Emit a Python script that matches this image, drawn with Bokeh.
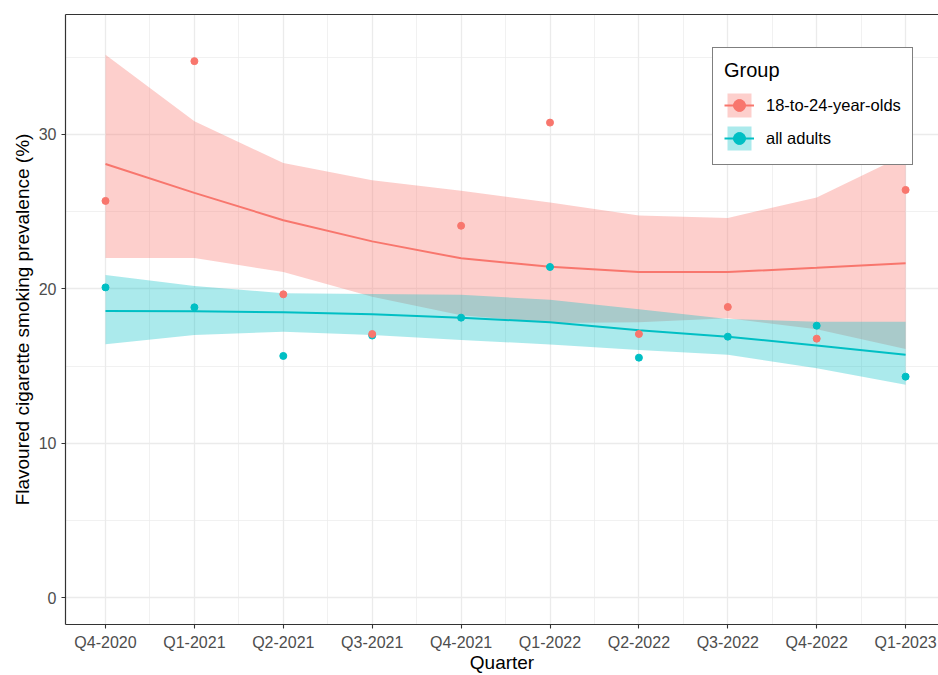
from bokeh.plotting import figure
from bokeh.models import Range1d, FixedTicker, Legend, LegendItem, LinearAxis
from bokeh.embed import file_html
from bokeh.resources import INLINE

quarters = ["Q4-2020", "Q1-2021", "Q2-2021", "Q3-2021", "Q4-2021",
            "Q1-2022", "Q2-2022", "Q3-2022", "Q4-2022", "Q1-2023"]

young_obs = [25.7, 34.75, 19.65, 17.08, 24.09, 30.77, 17.08, 18.83, 16.78, 26.41]
adult_obs = [20.1, 18.81, 15.66, 16.98, 18.14, 21.42, 15.55, 16.91, 17.62, 14.32]

young_fit = [28.09, 26.22, 24.45, 23.08, 21.98, 21.44, 21.09, 21.09, 21.37, 21.67]
young_upper = [35.16, 30.85, 28.16, 27.04, 26.35, 25.6, 24.76, 24.6, 25.92, 28.7]
young_lower = [22.0, 22.0, 21.09, 19.5, 18.3, 17.8, 17.85, 18.1, 17.39, 16.11]

adult_fit = [18.57, 18.55, 18.49, 18.36, 18.14, 17.84, 17.32, 16.91, 16.33, 15.73]
adult_upper = [20.9, 20.19, 19.72, 19.67, 19.62, 19.3, 18.68, 18.05, 17.88, 17.88]
adult_lower = [16.42, 17.02, 17.23, 17.02, 16.7, 16.4, 16.05, 15.73, 14.87, 13.79]

y_ticks = [0, 10, 20, 30]
y_minor = [5, 15, 25, 35]

RED = "#F8766D"
TEAL = "#00BFC4"
FONT = "Liberation Sans"
BORDER = "#333333"

x = list(range(1, len(quarters) + 1))

p = figure(width=938, height=675,
           x_range=Range1d(0.55, len(quarters) + 0.37),
           y_range=Range1d(-1.73, 37.77),
           output_backend="svg", toolbar_location=None,
           min_border_left=65, min_border_top=14, min_border_right=0,
           min_border_bottom=0)

p.background_fill_color = "white"
p.border_fill_color = "white"
p.outline_line_color = None

p.xaxis.ticker = FixedTicker(ticks=x, minor_ticks=[v + 0.5 for v in x[:-1]])
p.xaxis.major_label_overrides = {i: q for i, q in zip(x, quarters)}
p.yaxis.ticker = FixedTicker(ticks=y_ticks, minor_ticks=y_minor)

for g in (p.xgrid, p.ygrid):
    g.grid_line_color = "#EBEBEB"
    g.grid_line_width = 1.3
    g.minor_grid_line_color = "#EBEBEB"
    g.minor_grid_line_width = 0.7

for ax in (p.xaxis, p.yaxis):
    ax.axis_line_color = BORDER
    ax.axis_line_width = 1.2
    ax.major_tick_line_color = BORDER
    ax.major_tick_line_width = 1.1
    ax.major_tick_out = 4
    ax.major_tick_in = 0
    ax.minor_tick_out = 0
    ax.minor_tick_in = 0
    ax.major_label_text_font = FONT
    ax.major_label_text_font_size = "16px"
    ax.major_label_text_color = "#4D4D4D"
    ax.major_label_standoff = 5
    ax.axis_label_text_font = FONT
    ax.axis_label_text_font_size = "19px"
    ax.axis_label_text_font_style = "normal"
    ax.axis_label_text_color = "black"

p.xaxis.major_label_standoff = 5
p.xaxis.axis_label_standoff = -2
p.yaxis.axis_label_standoff = 3
p.xaxis.axis_label = "Quarter"
p.yaxis.axis_label = "Flavoured cigarette smoking prevalence (%)"

top_axis = LinearAxis(ticker=FixedTicker(ticks=[]), axis_line_color=BORDER,
                      axis_line_width=1.2, major_tick_out=0, major_tick_in=0,
                      minor_tick_out=0, minor_tick_in=0,
                      major_label_text_font_size="0px")
p.add_layout(top_axis, "above")

r_yb = p.varea(x=x, y1=young_lower, y2=young_upper, fill_color=RED, fill_alpha=0.35)
r_ab = p.varea(x=x, y1=adult_lower, y2=adult_upper, fill_color=TEAL, fill_alpha=0.33)
r_yl = p.line(x, young_fit, line_color=RED, line_width=2)
r_al = p.line(x, adult_fit, line_color=TEAL, line_width=2)
r_ap = p.scatter(x, adult_obs, size=7, fill_color=TEAL, line_color=TEAL)
r_yp = p.scatter(x, young_obs, size=7, fill_color=RED, line_color=RED)

legend = Legend(items=[
    LegendItem(label="18-to-24-year-olds", renderers=[r_yb, r_yl, r_yp]),
    LegendItem(label="all adults", renderers=[r_ab, r_al, r_ap]),
], title="Group", location=(647, 459))
legend.glyph_width = 30
legend.glyph_height = 30
legend.label_height = 30
legend.label_standoff = 12
legend.spacing = 3
legend.padding = 11
legend.margin = 0
legend.title_standoff = 8
legend.border_line_color = "black"
legend.border_line_width = 1.5
legend.background_fill_color = "white"
legend.background_fill_alpha = 1
legend.title_text_font = FONT
legend.title_text_font_size = "20px"
legend.title_text_font_style = "normal"
legend.title_text_color = "black"
legend.label_text_font = FONT
legend.label_text_font_size = "16.5px"
legend.label_text_color = "black"
p.add_layout(legend)

open("out.html", "w").write(file_html(p, INLINE))
